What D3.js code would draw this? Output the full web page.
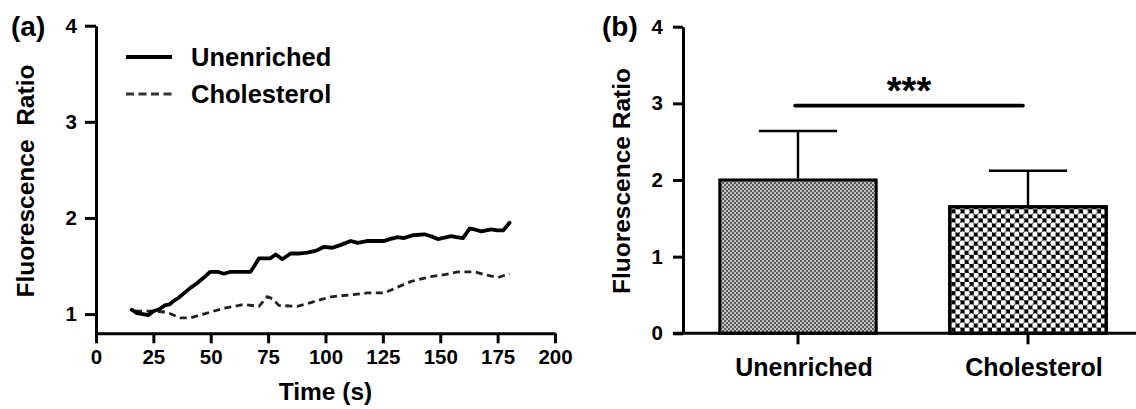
<!DOCTYPE html>
<html>
<head>
<meta charset="utf-8">
<script src="https://cdn.jsdelivr.net/npm/d3@7/dist/d3.min.js"></script>
<style>
  html, body { margin: 0; padding: 0; background: #fff; }
  svg { display: block; }
  text { font-family: "Liberation Sans", Arial, Helvetica, sans-serif; font-weight: bold; fill: #000; }
</style>
</head>
<body>
<svg id="chart" width="1136" height="409"></svg>
<script>
// ---------- Data ----------
// Panel (a): time course
const unenrichedTime = [15.6, 17.8, 22.9, 25, 27.5, 30, 32, 34, 36, 38, 41, 44, 47, 49.8, 53, 55.7, 58.6, 63, 67.3, 69, 71, 74, 76, 78.3, 81.2, 84.8, 88, 92.1, 96, 99.4, 103, 106.7, 111, 114, 118, 125.6, 128, 131.4, 134, 138, 143.1, 146, 148.9, 154.8, 157, 159.9, 162.8, 165, 167.9, 172.2, 175, 177.4, 180.2];
const unenrichedRatio = [1.045, 1.01, 0.99, 1.03, 1.05, 1.09, 1.10, 1.14, 1.17, 1.21, 1.27, 1.32, 1.38, 1.44, 1.44, 1.42, 1.44, 1.44, 1.44, 1.50, 1.58, 1.58, 1.58, 1.62, 1.57, 1.63, 1.63, 1.64, 1.66, 1.70, 1.69, 1.72, 1.76, 1.74, 1.76, 1.76, 1.78, 1.80, 1.79, 1.82, 1.83, 1.81, 1.78, 1.81, 1.80, 1.79, 1.89, 1.88, 1.86, 1.88, 1.87, 1.87, 1.95];
const cholesterolTime = [17, 25, 30.9, 36.7, 41.1, 46.9, 55.6, 64.4, 71, 74.6, 76.8, 79.7, 87.7, 93.6, 102.3, 111, 118.3, 125.6, 131.4, 137.3, 146, 151.8, 157.7, 164.9, 169.3, 175.2, 180.2];
const cholesterolRatio = [1.03, 1.03, 1.02, 0.96, 0.96, 1.00, 1.06, 1.10, 1.08, 1.18, 1.16, 1.09, 1.08, 1.12, 1.18, 1.20, 1.22, 1.22, 1.28, 1.34, 1.39, 1.41, 1.44, 1.44, 1.41, 1.38, 1.42];
const xTicksA = [0, 25, 50, 75, 100, 125, 150, 175, 200];
const yTicksA = [1, 2, 3, 4];
const legendLabels = ["Unenriched", "Cholesterol"];

// Panel (b): bar chart
const barCategories = ["Unenriched", "Cholesterol"];
const barMeans = [2.0, 1.65];
const barSD = [0.64, 0.47];
const yTicksB = [0, 1, 2, 3, 4];
const sigLevel = 2.97;
const sigLabel = "***";

// ---------- Setup ----------
const svg = d3.select("#chart");
const defs = svg.append("defs");
const FONT = '"Liberation Sans", Arial, sans-serif';

// Patterns
const p1 = defs.append("pattern").attr("id", "patGray").attr("patternUnits", "userSpaceOnUse")
  .attr("width", 4).attr("height", 4);
p1.append("rect").attr("width", 4).attr("height", 4).attr("fill", "#c4c4c4");
p1.append("rect").attr("width", 2).attr("height", 2).attr("fill", "#5a5a5a");
p1.append("rect").attr("x", 2).attr("y", 2).attr("width", 2).attr("height", 2).attr("fill", "#5a5a5a");

const P = 9.1;
const p2 = defs.append("pattern").attr("id", "patCheck").attr("patternUnits", "userSpaceOnUse")
  .attr("width", P).attr("height", P);
p2.append("rect").attr("width", P).attr("height", P).attr("fill", "#000");
[[P/4, P/4], [3*P/4, 3*P/4]].forEach(([cx, cy]) => {
  p2.append("circle").attr("cx", cx).attr("cy", cy).attr("r", 2.85).attr("fill", "#fff");
});

function styleAxis(g, fs) {
  g.select(".domain").attr("stroke", "#000").attr("stroke-width", 3);
  g.selectAll(".tick line").attr("stroke", "#000").attr("stroke-width", 3);
  g.selectAll(".tick text").style("font-size", fs + "px").style("font-weight", "bold")
    .style("font-family", FONT).attr("fill", "#000");
}

// ---------- Panel (a) ----------
const xA = d3.scaleLinear().domain([0, 200]).range([96, 555]);
const yA = d3.scaleLinear().domain([0.8, 4]).range([333.3, 25.7]);

const gA = svg.append("g");

const xAxisA = d3.axisBottom(xA).tickValues(xTicksA).tickFormat(d3.format("d"))
  .tickSize(10).tickSizeOuter(0).tickPadding(6);
const yAxisA = d3.axisLeft(yA).tickValues(yTicksA).tickFormat(d3.format("d"))
  .tickSize(11).tickSizeOuter(0).tickPadding(8);

gA.append("g").attr("transform", `translate(0,${yA(0.8)})`).call(xAxisA).call(g => styleAxis(g, 20.5));
gA.append("g").attr("transform", `translate(${xA(0)},0)`).call(yAxisA).call(g => styleAxis(g, 20.5));

// lines
const lineA = d3.line().x(d => xA(d[0])).y(d => yA(d[1]));
gA.append("path").datum(d3.zip(cholesterolTime, cholesterolRatio)).attr("d", lineA)
  .attr("fill", "none").attr("stroke", "#222").attr("stroke-width", 2.8)
  .attr("stroke-dasharray", "7,4.5");
gA.append("path").datum(d3.zip(unenrichedTime, unenrichedRatio)).attr("d", lineA)
  .attr("fill", "none").attr("stroke", "#000").attr("stroke-width", 3.8)
  .attr("stroke-linejoin", "round").attr("stroke-linecap", "round");

// legend
const legY = [57, 94];
legendLabels.forEach((lab, i) => {
  gA.append("line").attr("x1", 126).attr("x2", 172).attr("y1", legY[i]).attr("y2", legY[i])
    .attr("stroke", i === 0 ? "#000" : "#333").attr("stroke-width", i === 0 ? 3.8 : 2.8)
    .attr("stroke-dasharray", i === 0 ? null : "8,4.5");
  gA.append("text").attr("x", 191).attr("y", legY[i] + 9).style("font-size", "25.5px").text(lab);
});

// titles
gA.append("text").attr("x", xA(100)).attr("y", 400).attr("text-anchor", "middle")
  .style("font-size", "24.5px").text("Time (s)");
gA.append("text").attr("transform", "translate(34,181) rotate(-90)").attr("text-anchor", "middle")
  .style("font-size", "24.5px").attr("xml:space", "preserve").text("Fluorescence  Ratio");
gA.append("text").attr("x", 11).attr("y", 36).style("font-size", "28px").text("(a)");

// ---------- Panel (b) ----------
const xB = d3.scaleBand().domain(barCategories).range([683, 1143]).paddingInner(0.32).paddingOuter(0.16);
const yB = d3.scaleLinear().domain([0, 4]).range([333.3, 26.7]);

const gB = svg.append("g");

// bars
gB.selectAll("rect.bar").data(barCategories).join("rect")
  .attr("class", "bar")
  .attr("x", d => xB(d)).attr("width", xB.bandwidth())
  .attr("y", (d, i) => yB(barMeans[i])).attr("height", (d, i) => yB(0) - yB(barMeans[i]))
  .attr("fill", (d, i) => i === 0 ? "url(#patGray)" : "url(#patCheck)")
  .attr("stroke", "#000").attr("stroke-width", (d, i) => i === 0 ? 3 : 3.5);

// error bars
barCategories.forEach((c, i) => {
  const cx = xB(c) + xB.bandwidth() / 2;
  const half = xB.bandwidth() / 4;
  gB.append("line").attr("x1", cx).attr("x2", cx).attr("y1", yB(barMeans[i]) - 1.5).attr("y2", yB(barMeans[i] + barSD[i]))
    .attr("stroke", "#000").attr("stroke-width", 2.4);
  gB.append("line").attr("x1", cx - half).attr("x2", cx + half)
    .attr("y1", yB(barMeans[i] + barSD[i])).attr("y2", yB(barMeans[i] + barSD[i]))
    .attr("stroke", "#000").attr("stroke-width", 2.6);
});

// axes
const yAxisB = d3.axisLeft(yB).tickValues(yTicksB).tickFormat(d3.format("d"))
  .tickSize(10).tickSizeOuter(0).tickPadding(10);
gB.append("g").attr("transform", `translate(683,0)`).call(yAxisB).call(g => styleAxis(g, 20.5));

const xAxisB = d3.axisBottom(xB).tickSize(11).tickSizeOuter(0).tickPadding(14);
const gxB = gB.append("g").attr("transform", `translate(0,${yB(0)})`).call(xAxisB);
styleAxis(gxB, 25);
gxB.select(".domain").remove();
gxB.selectAll(".tick text").attr("dx", 6);
gB.append("line").attr("x1", 673).attr("x2", 1136).attr("y1", yB(0)).attr("y2", yB(0))
  .attr("stroke", "#000").attr("stroke-width", 3);

// significance
const c1 = xB(barCategories[0]) + xB.bandwidth() / 2;
const c2 = xB(barCategories[1]) + xB.bandwidth() / 2;
gB.append("line").attr("x1", c1 - 3).attr("x2", c2 - 5).attr("y1", yB(sigLevel)).attr("y2", yB(sigLevel))
  .attr("stroke", "#000").attr("stroke-width", 3.6).attr("stroke-linecap", "round");
gB.append("text").attr("x", (c1 + c2) / 2 - 4).attr("y", 104).attr("text-anchor", "middle")
  .style("font-size", "38px").text(sigLabel);

// titles
gB.append("text").attr("transform", "translate(630,181) rotate(-90)").attr("text-anchor", "middle")
  .style("font-size", "24.5px").text("Fluorescence Ratio");
gB.append("text").attr("x", 602).attr("y", 36).style("font-size", "28px").text("(b)");
</script>
</body>
</html>
